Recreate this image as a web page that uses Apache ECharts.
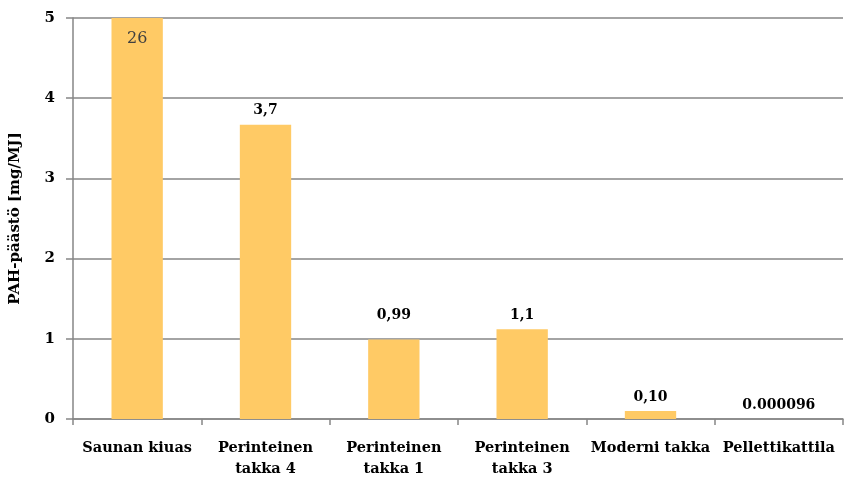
<!DOCTYPE html>
<html>
<head>
<meta charset="utf-8">
<script src="https://cdn.jsdelivr.net/npm/echarts@6/dist/echarts.min.js"></script>
<style>
  html, body { margin: 0; padding: 0; background: #fff; }
  #chart { width: 845px; height: 488px; }
</style>
</head>
<body>
<div id="chart"></div>
<script>
const categories = ['Saunan kiuas', 'Perinteinen\ntakka 4', 'Perinteinen\ntakka 1', 'Perinteinen\ntakka 3', 'Moderni takka', 'Pellettikattila'];
const emissions = [26, 3.67, 0.99, 1.12, 0.10, 0.000096];
const valueLabels = ['26', '3,7', '0,99', '1,1', '0,10', '0.000096'];
const yMax = 5;

const serif = '"DejaVu Serif", "Liberation Serif", serif';
const axisGray = '#868686';

const chart = echarts.init(document.getElementById('chart'), null, { renderer: 'canvas' });

chart.setOption({
  animation: false,
  backgroundColor: '#fff',
  grid: { left: 70, right: 2, top: 18, bottom: 69 },
  xAxis: {
    type: 'category',
    data: categories,
    axisLine: { lineStyle: { color: axisGray, width: 1.5 } },
    axisTick: { show: true, length: 6, lineStyle: { color: axisGray, width: 1.5 } },
    axisLabel: {
      color: '#000', fontFamily: serif, fontWeight: 'bold', fontSize: 14.5,
      margin: 19, lineHeight: 21, interval: 0
    }
  },
  yAxis: {
    type: 'value',
    min: 0,
    max: yMax,
    interval: 1,
    name: 'PAH-päästö [mg/MJ]',
    nameLocation: 'middle',
    nameGap: 50,
    nameTextStyle: { color: '#000', fontFamily: serif, fontWeight: 'bold', fontSize: 15 },
    axisLine: { show: true, lineStyle: { color: axisGray, width: 1.5 } },
    axisTick: { show: true, length: 7, lineStyle: { color: axisGray, width: 1.5 } },
    axisLabel: { color: '#000', fontFamily: serif, fontWeight: 'bold', fontSize: 15, margin: 18 },
    splitLine: { lineStyle: { color: axisGray, width: 1.5 } }
  },
  series: [{
    type: 'bar',
    barWidth: '40%',
    itemStyle: { color: '#FFCA65' },
    data: emissions.map((v, i) => {
      // the clipped bar shows its real value inside; 0,99 sits level with 1,1
      let label = {};
      if (v > yMax) label = { position: 'insideTop', distance: 13, color: '#404040', fontWeight: 'normal', fontSize: 16 };
      else if (i === 2) label = { distance: 17 };
      return { value: Math.min(v, yMax), label };
    }),
    label: {
      show: true,
      position: 'top',
      distance: 7,
      color: '#000',
      fontFamily: serif,
      fontWeight: 'bold',
      fontSize: 14,
      formatter: p => valueLabels[p.dataIndex]
    }
  }]
});
</script>
</body>
</html>
